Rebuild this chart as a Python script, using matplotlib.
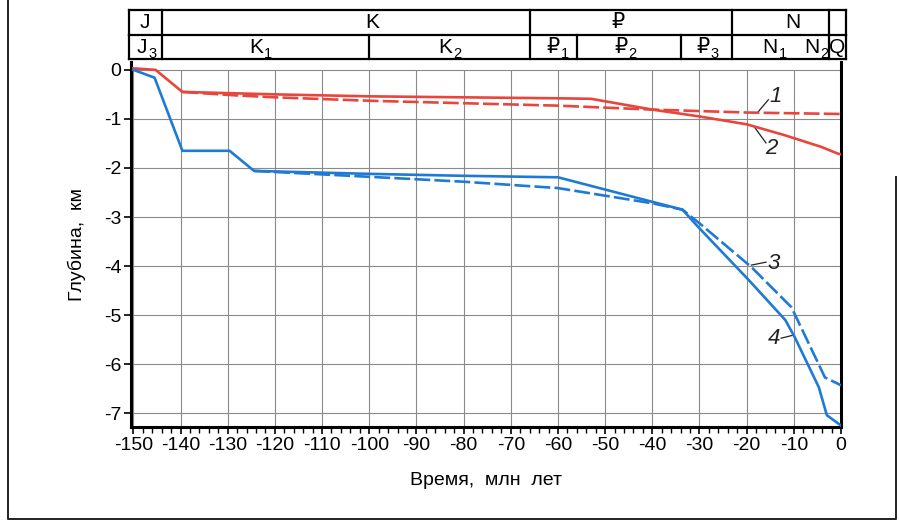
import matplotlib
matplotlib.use('Agg')
import matplotlib.pyplot as plt
from matplotlib.transforms import offset_copy

# time axis, million years
# curve 1 - red dashed, curve 2 - red solid, curve 3 - blue dashed, curve 4 - blue solid
t2 = [-150, -145.3, -139.6, -120, -100, -80, -60, -53, -40, -30, -20, -12, -4.2, -0.6, 0]
d2 = [0.03, 0.0, -0.45, -0.5, -0.54, -0.56, -0.58, -0.59, -0.81, -0.95, -1.11, -1.33, -1.57, -1.71, -1.72]

t1 = [-139.6, -128.4, -120, -100, -80, -60, -40, -20, 0]
d1 = [-0.45, -0.52, -0.56, -0.63, -0.68, -0.73, -0.81, -0.87, -0.9]

t4 = [-150, -145.5, -139.6, -129.6, -124.4, -100, -80, -60, -33.6, -30.3, -19.5, -11.8, -9.8, -4.7, -3.0, 0]
d4 = [0.0, -0.16, -1.65, -1.65, -2.06, -2.12, -2.16, -2.19, -2.85, -3.2, -4.29, -5.1, -5.45, -6.47, -7.04, -7.25]

t3 = [-124.4, -100, -80, -60, -40, -33.6, -29.6, -19, -10.5, -3.4, 0]
d3 = [-2.06, -2.18, -2.28, -2.41, -2.72, -2.85, -3.16, -4.02, -4.84, -6.27, -6.43]

xticks = list(range(-150, 1, 10))
yticks = list(range(-7, 1))

# stratigraphic column (boundaries in Ma)
top_edges = [-151, -144, -66, -23, -2.6, 1]
top_names = ['J', 'K', '\u20bd', 'N']
bot_edges = [-151, -144, -100, -66, -56, -34, -23, -2.6, 1]
bot_names = [('J', '3'), ('K', '1'), ('K', '2'), ('\u20bd', '1'), ('\u20bd', '2'),
             ('\u20bd', '3'), ('N', '1'), ('N', '2'), ('Q', '')]

RED = '#e8453c'
BLUE = '#1f7ad6'

plt.rcParams['font.family'] = ['Liberation Sans Narrow', 'Liberation Sans', 'DejaVu Sans']

W, H = 899, 523
fig = plt.figure(figsize=(W / 100, H / 100), dpi=100)

x0, x1 = 131, 841
ax = fig.add_axes([x0 / W, (H - 427) / H, (x1 - x0) / W, (427 - 62) / H])
xmin, xmax = -150.5, 0
ymin, ymax = -7.28, 0.16
ax.set_xlim(xmin, xmax)
ax.set_ylim(ymin, ymax)

# grid only up to zero depth
ax.vlines(xticks, ymin, 0, color='#8a8a8a', lw=0.8, zorder=1)
ax.hlines(yticks, xmin, xmax, color='#8a8a8a', lw=0.8, zorder=1)

ax.plot(t1, d1, color=RED, lw=1.9, dashes=(6, 1.6), zorder=3)
ax.plot(t2, d2, color=RED, lw=1.9, zorder=3)
ax.plot(t3, d3, color=BLUE, lw=1.9, dashes=(6, 1.6), zorder=3)
ax.plot(t4, d4, color=BLUE, lw=1.9, zorder=3)

# curve numbers with leaders
lab = dict(fontsize=16, style='italic', color='#222222')
ax.plot([-17.6, -15.4], [-0.86, -0.61], color='#222222', lw=0.9)
ax.text(-15.2, -0.55, '1', ha='left', va='center', **lab)
ax.plot([-18.4, -15.9], [-1.16, -1.49], color='#222222', lw=0.9)
ax.text(-16.0, -1.6, '2', ha='left', va='center', **lab)
ax.plot([-19.0, -15.9], [-3.98, -3.92], color='#222222', lw=0.9)
ax.text(-15.6, -3.94, '3', ha='left', va='center', **lab)
ax.plot([-12.7, -10.2], [-5.47, -5.41], color='#222222', lw=0.9)
ax.text(-12.9, -5.47, '4', ha='right', va='center', **lab)

ax.spines['top'].set_visible(False)
for s in ['left', 'right', 'bottom']:
    ax.spines[s].set_linewidth(2.2)

ax.set_xticks(xticks)
ax.set_xticks(list(range(-150, 1, 2)), minor=True)
ax.set_yticks(yticks)
ax.set_xticklabels([str(v) for v in xticks])
ax.set_yticklabels([str(v) for v in yticks])
ax.tick_params(axis='both', which='major', direction='out', length=5, width=1.2,
               labelsize=14, pad=2)
ax.tick_params(axis='x', which='minor', direction='out', length=4, width=1.0)
ax.set_xlabel('Время,  млн  лет', fontsize=14, labelpad=13)
ax.set_ylabel('Глубина,  км', fontsize=14, labelpad=13)

# stratigraphic table above the plot
tx = fig.add_axes([x0 / W, (H - 59) / H, (x1 - x0) / W, 49 / H])
tx.set_xlim(xmin, xmax)
tx.set_ylim(0, 2)
tx.axis('off')
lk = dict(color='black', lw=1.6, clip_on=False)
for yy in [0, 1, 2]:
    tx.plot([top_edges[0], top_edges[-1]], [yy, yy], **lk)
for e in top_edges:
    tx.plot([e, e], [1, 2], **lk)
for e in bot_edges:
    tx.plot([e, e], [0, 1], **lk)

top_pos = [-147.5, -99.4, -47.2, -10.3]
bot_pos = [-147.0, -122.5, -82.3, -59.6, -45.2, -27.8, -13.4, -4.6, -0.8]
for xp, name in zip(top_pos, top_names):
    tx.text(xp, 1.47, name, ha='center', va='center', fontsize=15, clip_on=False)


def sub_label(x, y, base, sub):
    if not sub:
        tx.text(x, y, base, ha='center', va='center', fontsize=15, clip_on=False)
        return
    tx.text(x, y, base, ha='right', va='center', fontsize=15, clip_on=False)
    tr = offset_copy(tx.transData, fig=fig, x=0.5, y=-5, units='points')
    tx.text(x, y, sub, ha='left', va='center', fontsize=10.5, transform=tr,
            clip_on=False)


for xp, (b, s) in zip(bot_pos, bot_names):
    sub_label(xp, 0.47, b, s)

# page frame of the scan
fr = fig.add_axes([0, 0, 1, 1])
fr.set_xlim(0, W)
fr.set_ylim(H, 0)
fr.axis('off')
fr.patch.set_alpha(0)
fr.plot([8, 8, 896, 896], [0, 519, 519, 177], color='#222222', lw=1.4)

fig.savefig('out.png', dpi=100)
